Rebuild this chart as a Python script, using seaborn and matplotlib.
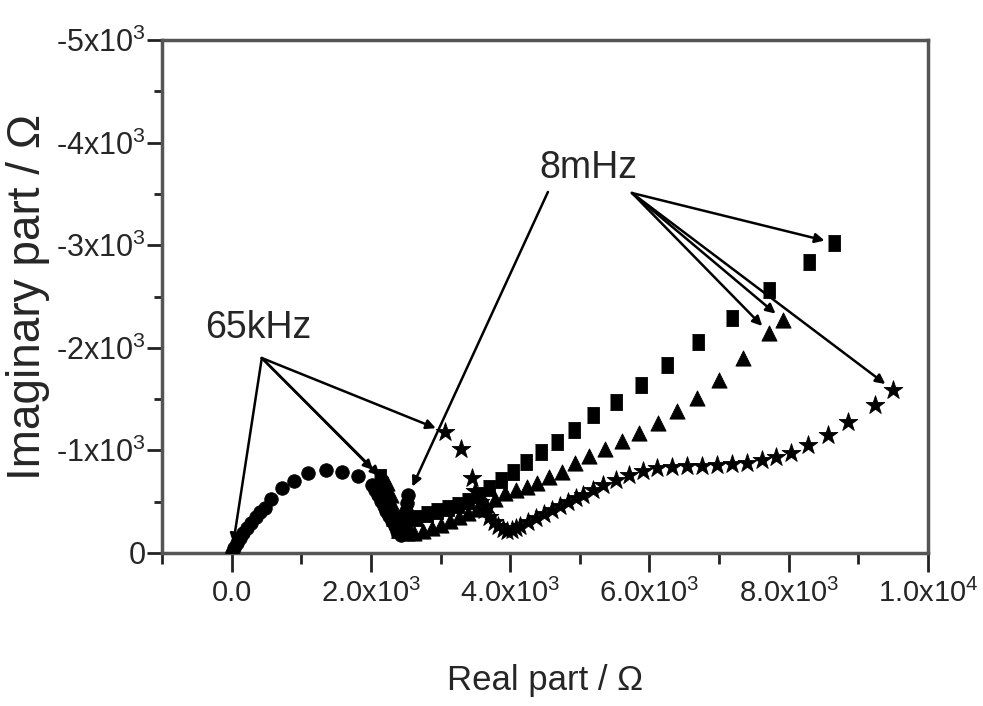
import matplotlib
matplotlib.use("Agg")
import matplotlib.pyplot as plt
from matplotlib import font_manager
from matplotlib.ticker import FixedLocator, MultipleLocator
import pandas as pd
import seaborn as sns

# impedance data (real part / imaginary part, ohm)
circ_re = [0, 30, 70, 115, 165, 220, 280, 345, 410, 470, 560, 720, 900, 1090, 1350,
           1590, 1810, 2010, 2060, 2100, 2140, 2180, 2220, 2260, 2300, 2340, 2380,
           2430, 2470, 2490, 2505, 2520, 2535]
circ_im = [0, -45, -95, -145, -195, -245, -295, -345, -395, -440, -520, -630, -700, -780, -810,
           -790, -745, -660, -610, -560, -510, -460, -410, -360, -310, -260, -210,
           -175, -230, -320, -410, -490, -560]

sq_re = [2127, 2184, 2242, 2299, 2371, 2500, 2650, 2800, 2950, 3100, 3250, 3400, 3550,
         3700, 3866, 4038, 4225, 4440, 4670, 4915, 5188, 5518, 5877, 6251, 6696,
         7185, 7717, 8291, 8651]
sq_im = [-741, -614, -468, -341, -220, -290, -340, -380, -410, -440, -470, -510, -560,
         -630, -712, -790, -887, -985, -1082, -1199, -1346, -1472, -1638, -1833, -2057,
         -2291, -2564, -2837, -3023]

tri_re = [2227, 2280, 2330, 2380, 2440, 2520, 2620, 2740, 2870, 3000, 3130, 3260, 3390,
          3520, 3650, 3780, 3923, 4081, 4239, 4383, 4555, 4742, 4929, 5130, 5360,
          5604, 5849, 6122, 6395, 6682, 6998, 7343, 7717, 7918]
tri_im = [-682, -560, -440, -330, -240, -190, -190, -210, -240, -270, -310, -350, -390,
          -430, -470, -520, -585, -614, -644, -683, -741, -790, -878, -946, -1014,
          -1092, -1170, -1268, -1385, -1511, -1687, -1901, -2145, -2272]

star_re = [3060, 3290, 3449, 3500, 3560, 3620, 3690, 3760, 3830, 3890, 3950, 4020, 4080,
           4139, 4254, 4368, 4483, 4598, 4713, 4828, 4943, 5044, 5188, 5331, 5518,
           5705, 5906, 6107, 6323, 6538, 6754, 6969, 7185, 7400, 7616, 7817, 8033,
           8277, 8565, 8852, 9240, 9499]
star_im = [-1180, -1014, -731, -600, -500, -420, -350, -300, -260, -230, -215, -220, -240,
           -263, -302, -341, -380, -419, -458, -497, -536, -566, -615, -663, -712,
           -761, -800, -829, -839, -848, -848, -858, -868, -878, -907, -936, -975,
           -1053, -1150, -1277, -1443, -1589]

x_ticks = [0, 2000, 4000, 6000, 8000, 10000]
x_labels = ["0.0", "2.0x10$^3$", "4.0x10$^3$", "6.0x10$^3$", "8.0x10$^3$", "1.0x10$^4$"]
y_ticks = [0, -1000, -2000, -3000, -4000, -5000]
y_labels = ["0", "-1x10$^3$", "-2x10$^3$", "-3x10$^3$", "-4x10$^3$", "-5x10$^3$"]

sns.set_theme(style="ticks")
names = {f.name for f in font_manager.fontManager.ttflist}
narrow = "Liberation Sans Narrow" if "Liberation Sans Narrow" in names else "Liberation Sans"
plt.rcParams["font.family"] = ["Liberation Sans", "DejaVu Sans"]
plt.rcParams["mathtext.fontset"] = "custom"
plt.rcParams["mathtext.rm"] = "Liberation Sans"
plt.rcParams["mathtext.it"] = "Liberation Sans"

fig = plt.figure(figsize=(9.83, 7.06), dpi=100)
ax = fig.add_axes([0.165, 0.217, 0.779, 0.726])

tall_square = [(-0.36, -0.5), (0.36, -0.5), (0.36, 0.5), (-0.36, 0.5)]
series = [
    (circ_re, circ_im, "o", 95),
    (sq_re, sq_im, tall_square, 140),
    (tri_re, tri_im, "^", 120),
    (star_re, star_im, "*", 200),
]
for re_, im_, mk, size in series:
    df = pd.DataFrame({"re": re_, "im": im_})
    sns.scatterplot(data=df, x="re", y="im", marker=mk, s=size, color="black",
                    edgecolor="black", linewidth=0.6, ax=ax, legend=False, zorder=3)

ax.set_xlim(-1000, 10000)
ax.set_ylim(0, -5000)

ax.xaxis.set_major_locator(FixedLocator(x_ticks))
ax.xaxis.set_minor_locator(MultipleLocator(1000))
ax.yaxis.set_major_locator(FixedLocator(y_ticks))
ax.yaxis.set_minor_locator(MultipleLocator(500))
ax.set_xticklabels(x_labels, fontsize=21, family=narrow)
ax.set_yticklabels(y_labels, fontsize=22)

ax.tick_params(axis="both", which="major", direction="out", width=2, color="#222222")
ax.tick_params(axis="x", which="major", length=14, pad=5)
ax.tick_params(axis="y", which="major", length=11, pad=1)
ax.tick_params(axis="x", which="minor", direction="out", length=8, width=2, color="#222222")
ax.tick_params(axis="y", which="minor", direction="out", length=6, width=2, color="#222222")
for sp in ax.spines.values():
    sp.set_visible(True)
    sp.set_linewidth(2.5)
    sp.set_color("#555555")

ax.set_xlabel("Real part / \u03a9", fontsize=25, family=narrow, labelpad=40)
ax.set_ylabel("Imaginary part / \u03a9", fontsize=33, labelpad=4)

arrow = dict(arrowstyle="-|>", color="black", lw=1.8, mutation_scale=14,
             shrinkA=0, shrinkB=7)

# 65kHz: first point of each spectrum
ax.text(374, -2193, "65kHz", fontsize=27, family=narrow, ha="center", va="center")
for re_, im_ in [(circ_re, circ_im), (sq_re, sq_im), (tri_re, tri_im), (star_re, star_im)]:
    ax.annotate("", xy=(re_[0], im_[0]), xytext=(431, -1900), arrowprops=arrow)

# 8mHz: last point of each spectrum
ax.text(5116, -3754, "8mHz", fontsize=27, family=narrow, ha="center", va="center")
ax.annotate("", xy=(circ_re[-1], circ_im[-1]), xytext=(4541, -3520), arrowprops=arrow)
for re_, im_ in [(sq_re, sq_im), (tri_re, tri_im), (star_re, star_im)]:
    ax.annotate("", xy=(re_[-1], im_[-1]), xytext=(5748, -3510), arrowprops=arrow)
ax.annotate("", xy=(tri_re[-2], tri_im[-2]), xytext=(5748, -3510), arrowprops=arrow)

fig.savefig("out.png", dpi=100)
